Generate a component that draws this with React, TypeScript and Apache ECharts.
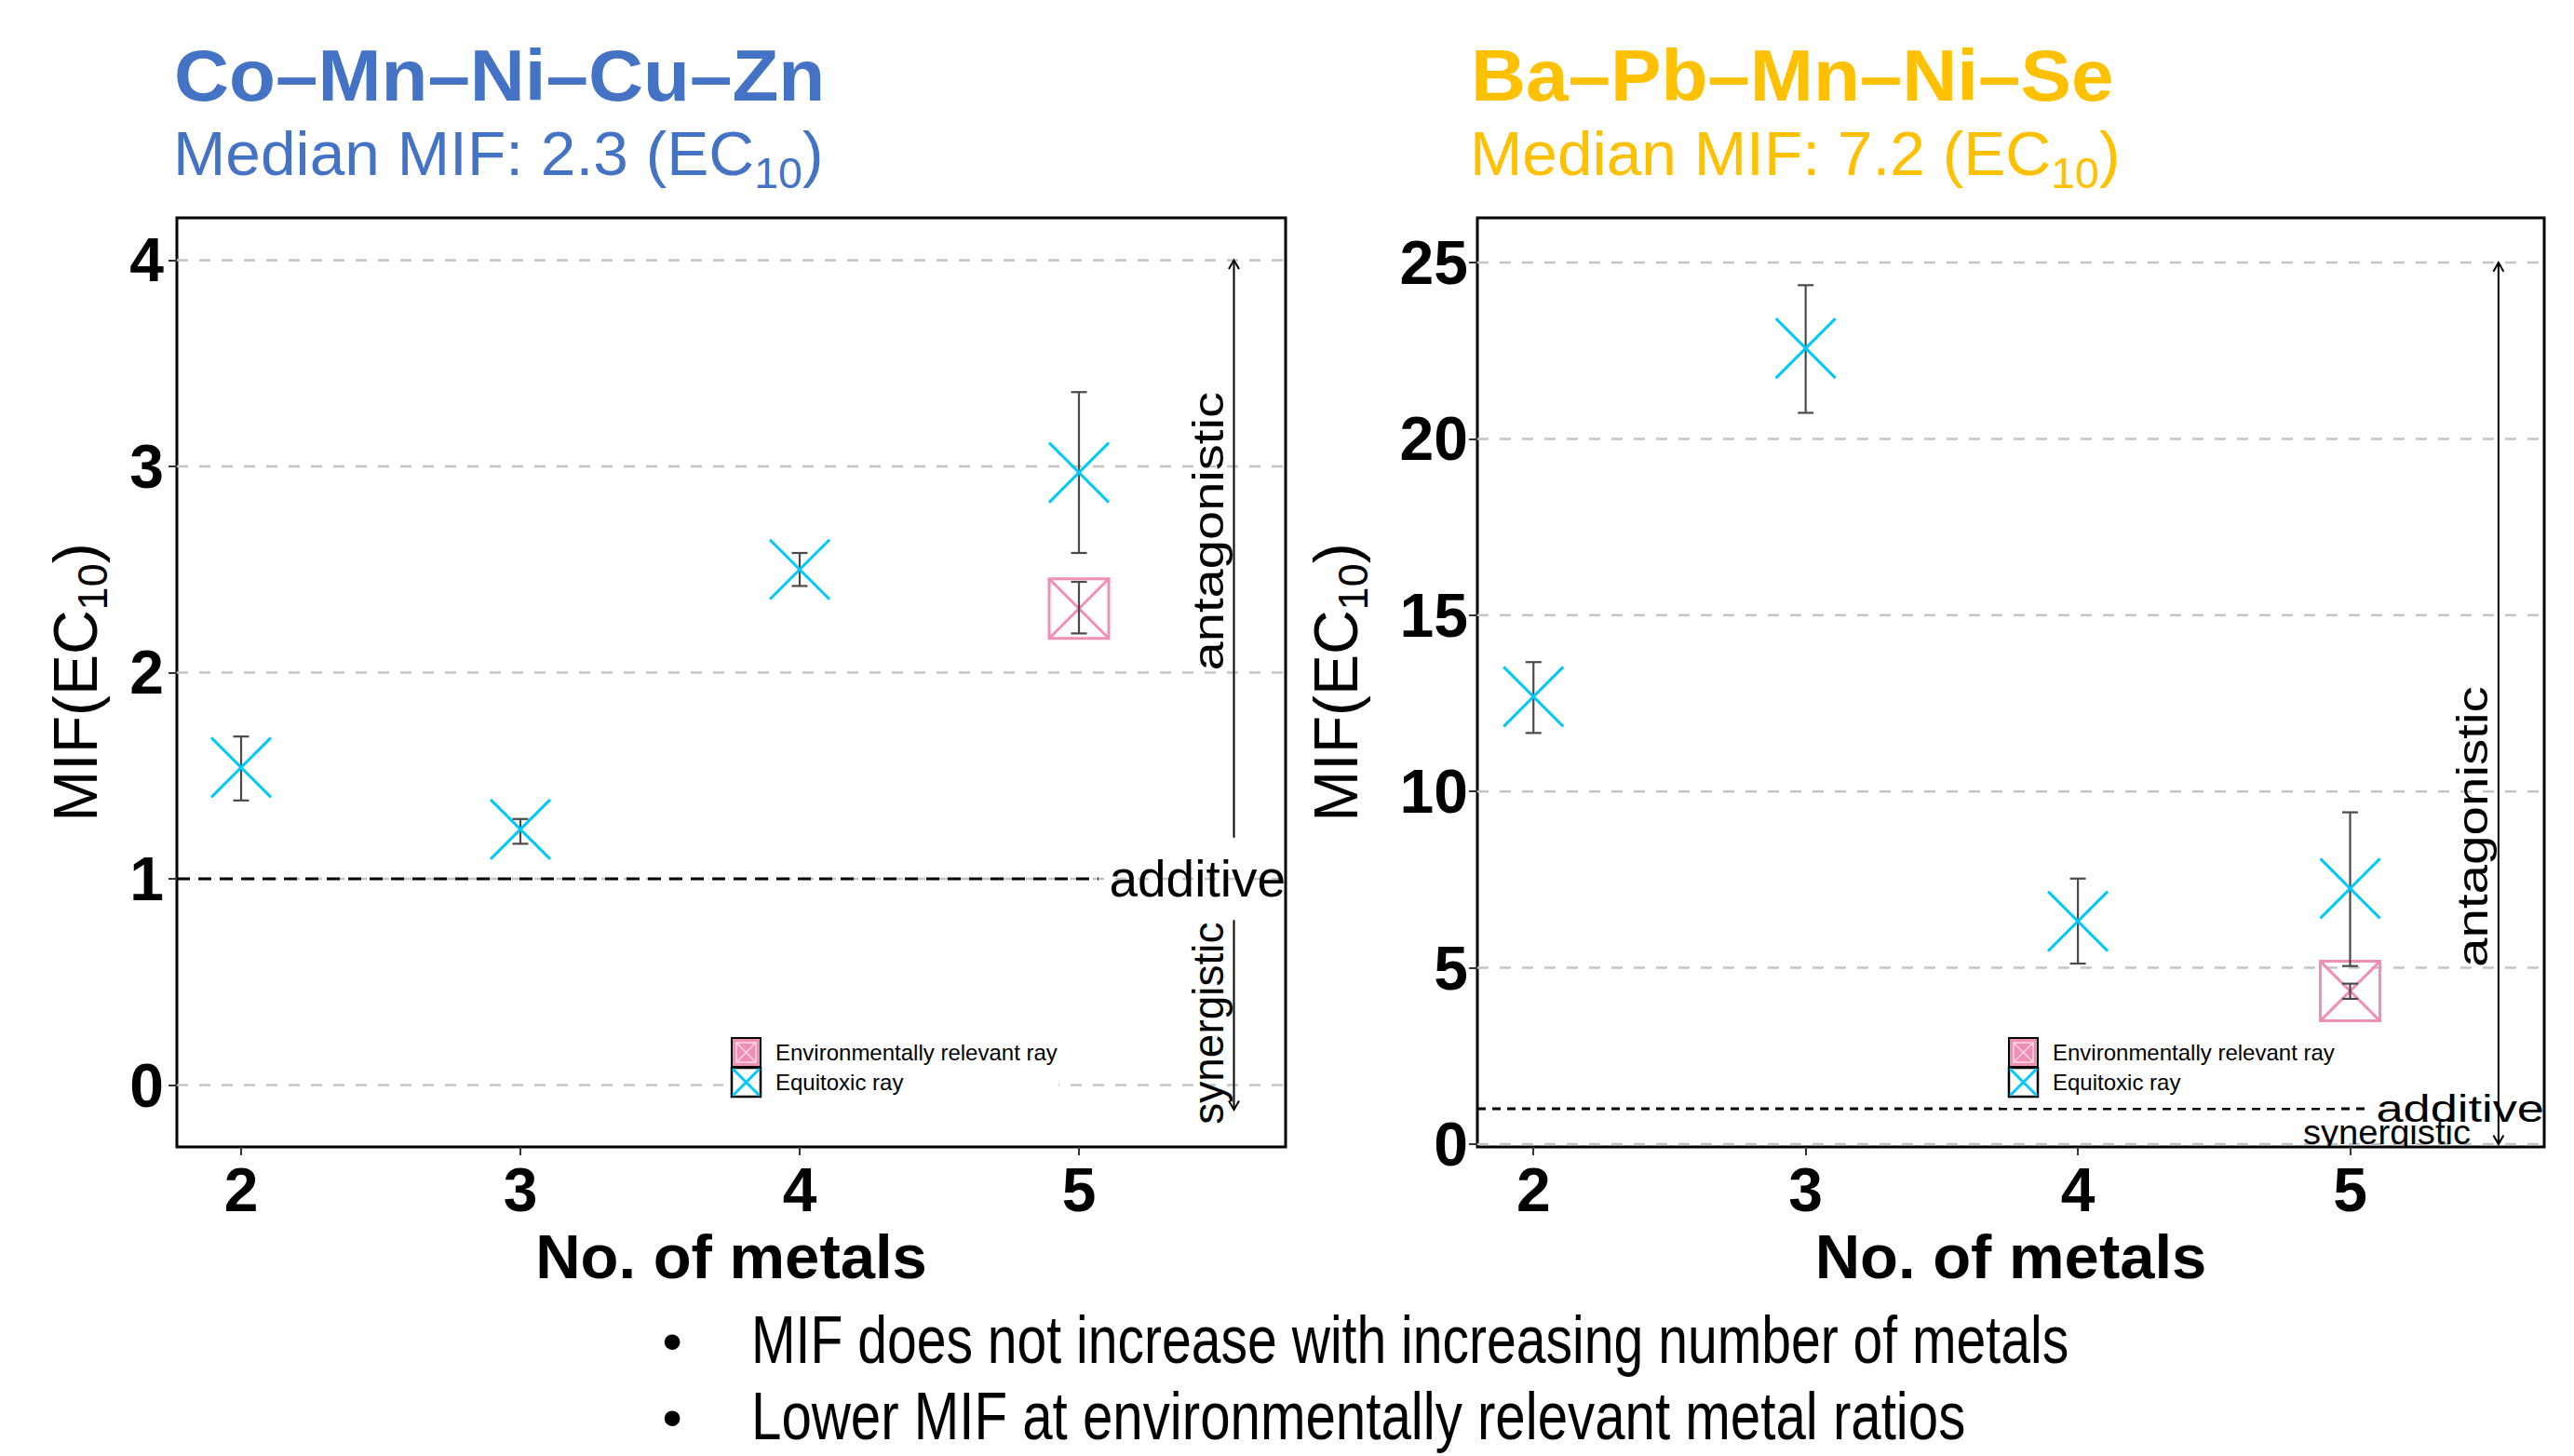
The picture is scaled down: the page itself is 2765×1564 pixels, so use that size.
import React, { useEffect, useRef } from "react";
import * as echarts from "echarts";

const FONT = '"Liberation Sans", Arial, Helvetica, sans-serif';
const BULLET_FONT = '"Liberation Sans", Arial, sans-serif';
const BLUE = "#4472C4";
const ORANGE = "#FFC000";
const CYAN = "#00C8F8";
const PINK = "#F08FB3";
const ERR = "#4a4a4a";
const GRIDLINE = "#c4c4c4";

// ---------- data ----------
const metals = [2, 3, 4, 5];
const envMetals = [5];

const leftTitle = "Co–Mn–Ni–Cu–Zn";
const leftMedian = "2.3";
const leftEquitoxic = [1.54, 1.24, 2.5, 2.97];
const leftEquitoxicLow = [1.38, 1.17, 2.42, 2.58];
const leftEquitoxicHigh = [1.69, 1.29, 2.58, 3.36];
const leftEnv = [2.31];
const leftEnvLow = [2.19];
const leftEnvHigh = [2.44];
const leftYTicks = [0, 1, 2, 3, 4];

const rightTitle = "Ba–Pb–Mn–Ni–Se";
const rightMedian = "7.2";
const rightEquitoxic = [12.69, 22.57, 6.32, 7.25];
const rightEquitoxicLow = [11.66, 20.74, 5.12, 5.05];
const rightEquitoxicHigh = [13.67, 24.36, 7.53, 9.41];
const rightEnv = [4.34];
const rightEnvLow = [4.12];
const rightEnvHigh = [4.55];
const rightYTicks = [0, 5, 10, 15, 20, 25];

const legendLabels = ["Environmentally relevant ray", "Equitoxic ray"];
const bulletLines = [
  "MIF does not increase with increasing number of metals",
  "Lower MIF at environmentally relevant metal ratios",
];

// ---------- layout ----------
const panels: any[] = [
  {
    title: leftTitle,
    median: leftMedian,
    color: BLUE,
    titleX: 187,
    grid: { left: 190, top: 234, width: 1191, height: 998 },
    xRange: [1.77, 5.74],
    yRange: [-0.3, 4.205],
    yTicks: leftYTicks,
    eq: leftEquitoxic,
    eqLow: leftEquitoxicLow,
    eqHigh: leftEquitoxicHigh,
    env: leftEnv,
    envLow: leftEnvLow,
    envHigh: leftEnvHigh,
    yLabelMargin: 14,
    yNameGap: 68,
    legendX: 786,
    additiveEnd: 5.07,
    additiveSize: 55,
    additiveScale: 1,
    additiveDash: [14, 9],
    arrowX: 5.555,
    antagFrom: 1.2,
    antagTo: 4.0,
    synFrom: 0.8,
    synTo: -0.12,
    textX: 5.463,
    antagY: 2.685,
    antagScale: 1.22,
    synRotated: true,
    synX: 5.463,
    synY: 0.3,
    synSize: 46,
    synScale: 1.0,
  },
  {
    title: rightTitle,
    median: rightMedian,
    color: ORANGE,
    titleX: 1580,
    grid: { left: 1587, top: 234, width: 1146, height: 998 },
    xRange: [1.794, 5.713],
    yRange: [-0.08, 26.27],
    yTicks: rightYTicks,
    eq: rightEquitoxic,
    eqLow: rightEquitoxicLow,
    eqHigh: rightEquitoxicHigh,
    env: rightEnv,
    envLow: rightEnvLow,
    envHigh: rightEnvHigh,
    yLabelMargin: 10,
    yNameGap: 111,
    legendX: 2158,
    additiveEnd: 5.07,
    additiveSize: 40,
    additiveScale: 1.31,
    additiveDash: [9, 7],
    arrowX: 5.545,
    antagFrom: 1,
    antagTo: 25,
    synFrom: 1,
    synTo: 0,
    textX: 5.45,
    antagY: 9.0,
    antagScale: 1.23,
    synRotated: false,
    synX: 5.135,
    synY: 0.33,
    synSize: 36,
    synScale: 1.06,
  },
];

function arrow(p0: number[], p1: number[]) {
  const ang = Math.atan2(p1[1] - p0[1], p1[0] - p0[0]);
  const L = 11;
  const a = Math.PI / 6;
  const h1 = [p1[0] - L * Math.cos(ang - a), p1[1] - L * Math.sin(ang - a)];
  const h2 = [p1[0] - L * Math.cos(ang + a), p1[1] - L * Math.sin(ang + a)];
  return [
    {
      type: "line",
      shape: { x1: p0[0], y1: p0[1], x2: p1[0], y2: p1[1] },
      style: { stroke: "#000", lineWidth: 2 },
    },
    {
      type: "polyline",
      shape: { points: [h1, p1, h2] },
      style: { stroke: "#000", lineWidth: 2, fill: "none" },
    },
  ];
}

function legendGroup(x0: number) {
  const k = 31;
  const y1 = 1115;
  const y2 = 1147;
  const ins = 5;
  return {
    type: "group",
    z: 100,
    children: [
      { type: "rect", z: 100, shape: { x: x0 - 9, y: 1102, width: 360, height: 88 }, style: { fill: "#fff" } },
      { type: "rect", z: 101, shape: { x: x0, y: y1, width: k, height: k }, style: { fill: PINK, stroke: "#000", lineWidth: 2 } },
      { type: "rect", z: 102, shape: { x: x0 + ins, y: y1 + ins, width: k - 2 * ins, height: k - 2 * ins }, style: { fill: "none", stroke: "#fbdbe6", lineWidth: 1.5 } },
      { type: "line", z: 102, shape: { x1: x0 + ins, y1: y1 + ins, x2: x0 + k - ins, y2: y1 + k - ins }, style: { stroke: "#fbdbe6", lineWidth: 1.5 } },
      { type: "line", z: 102, shape: { x1: x0 + k - ins, y1: y1 + ins, x2: x0 + ins, y2: y1 + k - ins }, style: { stroke: "#fbdbe6", lineWidth: 1.5 } },
      { type: "rect", z: 101, shape: { x: x0, y: y2, width: k, height: k }, style: { fill: "#fff", stroke: "#000", lineWidth: 2.5 } },
      { type: "line", z: 102, shape: { x1: x0 + 1, y1: y2 + 1, x2: x0 + k - 1, y2: y2 + k - 1 }, style: { stroke: CYAN, lineWidth: 3 } },
      { type: "line", z: 102, shape: { x1: x0 + k - 1, y1: y2 + 1, x2: x0 + 1, y2: y2 + k - 1 }, style: { stroke: CYAN, lineWidth: 3 } },
      { type: "text", z: 102, x: x0 + 47, y: y1 + k / 2, style: { text: legendLabels[0], fontSize: 24, lineHeight: 26, fontFamily: FONT, fill: "#000", align: "left", verticalAlign: "middle" } },
      { type: "text", z: 102, x: x0 + 47, y: y2 + k / 2, style: { text: legendLabels[1], fontSize: 24, lineHeight: 26, fontFamily: FONT, fill: "#000", align: "left", verticalAlign: "middle" } },
    ],
  };
}

function measure(text: string, font: string) {
  const ctx = document.createElement("canvas").getContext("2d") as CanvasRenderingContext2D;
  ctx.font = font;
  return ctx.measureText(text).width;
}

function buildOption() {
  const grids: any[] = [];
  const xAxes: any[] = [];
  const yAxes: any[] = [];
  const series: any[] = [];
  const graphics: any[] = [];

  panels.forEach((p, i) => {
    grids.push({
      ...p.grid,
      show: true,
      borderColor: "#000",
      borderWidth: 3,
      backgroundColor: "#fff",
      containLabel: false,
    });
    xAxes.push({
      gridIndex: i,
      type: "value",
      min: p.xRange[0],
      max: p.xRange[1],
      axisLine: { show: false, onZero: false },
      splitLine: { show: false },
      axisTick: { show: true, customValues: metals, length: 9, lineStyle: { color: "#333", width: 2 } },
      axisLabel: { customValues: metals, fontSize: 66, fontWeight: "bold", color: "#000", fontFamily: FONT, margin: 13 },
      name: "No. of metals",
      nameLocation: "middle",
      nameGap: 69,
      nameTextStyle: { fontSize: 67, fontWeight: "bold", color: "#000", fontFamily: FONT },
    });
    yAxes.push({
      gridIndex: i,
      type: "value",
      min: p.yRange[0],
      max: p.yRange[1],
      axisLine: { show: false, onZero: false },
      splitLine: { show: false },
      axisTick: { show: true, customValues: p.yTicks, length: 9, lineStyle: { color: "#333", width: 2 } },
      axisLabel: { customValues: p.yTicks, fontSize: 66, fontWeight: "bold", color: "#000", fontFamily: FONT, margin: p.yLabelMargin },
      name: "{main|MIF(EC}{sub|10}{main|)}",
      nameLocation: "middle",
      nameRotate: 90,
      nameGap: p.yNameGap,
      nameTextStyle: {
        rich: {
          main: { fontSize: 66, fontFamily: FONT, color: "#000", verticalAlign: "middle" },
          sub: { fontSize: 45, fontFamily: FONT, color: "#000", verticalAlign: "middle", padding: [38, 0, 0, 0] },
        },
      },
    });

    // grid lines
    series.push({
      type: "custom",
      xAxisIndex: i,
      yAxisIndex: i,
      z: 1,
      silent: true,
      data: p.yTicks.map((v: number) => [metals[0], v]),
      encode: { x: 0, y: 1 },
      renderItem: (params: any, api: any) => {
        const cs = params.coordSys;
        const pt = api.coord([api.value(0), api.value(1)]);
        return {
          type: "line",
          shape: { x1: cs.x, y1: pt[1], x2: cs.x + cs.width, y2: pt[1] },
          style: { stroke: GRIDLINE, lineWidth: 2.5, lineDash: [12, 12] },
        };
      },
    });

    // annotations: additive line, arrows, texts
    series.push({
      type: "custom",
      xAxisIndex: i,
      yAxisIndex: i,
      z: 2,
      silent: true,
      data: [[metals[0], p.yTicks[0]]],
      encode: { x: 0, y: 1 },
      renderItem: (params: any, api: any) => {
        const cs = params.coordSys;
        const right = cs.x + cs.width;
        const a = api.coord([p.additiveEnd, 1]);
        const children: any[] = [];
        children.push({
          type: "line",
          shape: { x1: cs.x, y1: a[1], x2: a[0], y2: a[1] },
          style: { stroke: "#000", lineWidth: 3, lineDash: p.additiveDash },
        });
        children.push({
          type: "text",
          x: right,
          y: a[1],
          scaleX: p.additiveScale,
          style: { text: "additive", fontSize: p.additiveSize, fontFamily: FONT, fill: "#000", align: "right", verticalAlign: "middle" },
        });
        children.push(...arrow(api.coord([p.arrowX, p.antagFrom]), api.coord([p.arrowX, p.antagTo])));
        children.push(...arrow(api.coord([p.arrowX, p.synFrom]), api.coord([p.arrowX, p.synTo])));
        const at = api.coord([p.textX, p.antagY]);
        children.push({
          type: "text",
          x: at[0],
          y: at[1],
          rotation: Math.PI / 2,
          scaleX: p.antagScale,
          style: { text: "antagonistic", fontSize: 46, fontFamily: FONT, fill: "#000", align: "center", verticalAlign: "middle" },
        });
        if (p.synRotated) {
          const st = api.coord([p.synX, p.synY]);
          children.push({
            type: "text",
            x: st[0],
            y: st[1],
            rotation: Math.PI / 2,
            scaleX: p.synScale,
            style: { text: "synergistic", fontSize: p.synSize, fontFamily: FONT, fill: "#000", align: "center", verticalAlign: "middle" },
          });
        }
        return { type: "group", children };
      },
    });

    if (!p.synRotated) {
      series.push({
        type: "custom",
        xAxisIndex: i,
        yAxisIndex: i,
        z: 2,
        silent: true,
        clip: true,
        data: [[p.synX, p.synY]],
        encode: { x: 0, y: 1 },
        renderItem: (params: any, api: any) => {
          const st = api.coord([api.value(0), api.value(1)]);
          return {
            type: "text",
            x: st[0],
            y: st[1],
            scaleX: p.synScale,
            style: { text: "synergistic", fontSize: p.synSize, fontFamily: FONT, fill: "#000", align: "center", verticalAlign: "middle" },
          };
        },
      });
    }

    // environmentally relevant ray markers (square with cross)
    series.push({
      type: "custom",
      name: legendLabels[0],
      xAxisIndex: i,
      yAxisIndex: i,
      z: 3,
      data: envMetals.map((m, k) => [m, p.env[k]]),
      encode: { x: 0, y: 1 },
      renderItem: (params: any, api: any) => {
        const c = api.coord([api.value(0), api.value(1)]);
        const h = 32;
        const st = { stroke: PINK, lineWidth: 3, fill: "none" };
        return {
          type: "group",
          children: [
            { type: "rect", shape: { x: c[0] - h, y: c[1] - h, width: 2 * h, height: 2 * h }, style: st },
            { type: "line", shape: { x1: c[0] - h, y1: c[1] - h, x2: c[0] + h, y2: c[1] + h }, style: st },
            { type: "line", shape: { x1: c[0] + h, y1: c[1] - h, x2: c[0] - h, y2: c[1] + h }, style: st },
          ],
        };
      },
    });

    // error bars
    const errData = metals
      .map((m, k) => [m, p.eqLow[k], p.eqHigh[k]])
      .concat(envMetals.map((m, k) => [m, p.envLow[k], p.envHigh[k]]));
    series.push({
      type: "custom",
      xAxisIndex: i,
      yAxisIndex: i,
      z: 4,
      data: errData,
      encode: { x: 0, y: [1, 2] },
      renderItem: (params: any, api: any) => {
        const x = api.value(0);
        const lo = api.coord([x, api.value(1)]);
        const hi = api.coord([x, api.value(2)]);
        const c = 8.5;
        const st = { stroke: ERR, lineWidth: 2.2 };
        return {
          type: "group",
          children: [
            { type: "line", shape: { x1: lo[0], y1: lo[1], x2: hi[0], y2: hi[1] }, style: st },
            { type: "line", shape: { x1: lo[0] - c, y1: lo[1], x2: lo[0] + c, y2: lo[1] }, style: st },
            { type: "line", shape: { x1: hi[0] - c, y1: hi[1], x2: hi[0] + c, y2: hi[1] }, style: st },
          ],
        };
      },
    });

    // equitoxic ray markers (cross)
    series.push({
      type: "custom",
      name: legendLabels[1],
      xAxisIndex: i,
      yAxisIndex: i,
      z: 5,
      data: metals.map((m, k) => [m, p.eq[k]]),
      encode: { x: 0, y: 1 },
      renderItem: (params: any, api: any) => {
        const c = api.coord([api.value(0), api.value(1)]);
        const h = 32;
        const st = { stroke: CYAN, lineWidth: 3 };
        return {
          type: "group",
          children: [
            { type: "line", shape: { x1: c[0] - h, y1: c[1] - h, x2: c[0] + h, y2: c[1] + h }, style: st },
            { type: "line", shape: { x1: c[0] + h, y1: c[1] - h, x2: c[0] - h, y2: c[1] + h }, style: st },
          ],
        };
      },
    });

    // titles
    graphics.push({
      type: "text",
      x: p.titleX,
      y: 81,
      scaleX: 1.048,
      style: { text: p.title, fontSize: 78, fontWeight: "bold", fontFamily: FONT, fill: p.color, align: "left", verticalAlign: "middle" },
    });
    graphics.push({
      type: "text",
      x: p.titleX - 1,
      y: 165,
      scaleX: 1.01,
      style: {
        text: `{main|Median MIF: ${p.median} (EC}{sub|10}{main|)}`,
        fontFamily: FONT,
        fontSize: 67,
        fill: p.color,
        align: "left",
        verticalAlign: "middle",
        rich: {
          main: { fontSize: 67, fontFamily: FONT, fill: p.color, verticalAlign: "middle" },
          sub: { fontSize: 46, fontFamily: FONT, fill: p.color, verticalAlign: "middle", padding: [42, 0, 0, 0] },
        },
      },
    });
    graphics.push(legendGroup(p.legendX));
  });

  // bullet text
  const bulletSize = 72;
  const targets = [1416, 1305];
  const ys = [1439, 1521];
  bulletLines.forEach((line, k) => {
    const w = measure(line, `${bulletSize}px ${BULLET_FONT}`) || 1;
    const s = targets[k] / w;
    graphics.push({
      type: "text",
      x: 722,
      y: ys[k] + 1,
      style: { text: "•", fontSize: 62, lineHeight: 56, fontFamily: BULLET_FONT, fill: "#000", align: "center", verticalAlign: "middle" },
    });
    graphics.push({
      type: "text",
      x: 807,
      y: ys[k],
      scaleX: s,
      style: { text: line, fontSize: bulletSize, lineHeight: 72, fontFamily: BULLET_FONT, fill: "#000", align: "left", verticalAlign: "middle" },
    });
  });

  return {
    animation: false,
    backgroundColor: "#fff",
    grid: grids,
    xAxis: xAxes,
    yAxis: yAxes,
    series,
    graphic: { elements: graphics },
  };
}

export default function App() {
  const ref = useRef<HTMLDivElement>(null);
  useEffect(() => {
    document.body.style.margin = "0";
    document.body.style.overflow = "hidden";
    const chart = echarts.init(ref.current as HTMLDivElement, null, { renderer: "svg" });
    chart.setOption(buildOption() as any);
    return () => chart.dispose();
  }, []);
  return <div ref={ref} style={{ width: 2765, height: 1564 }} />;
}
